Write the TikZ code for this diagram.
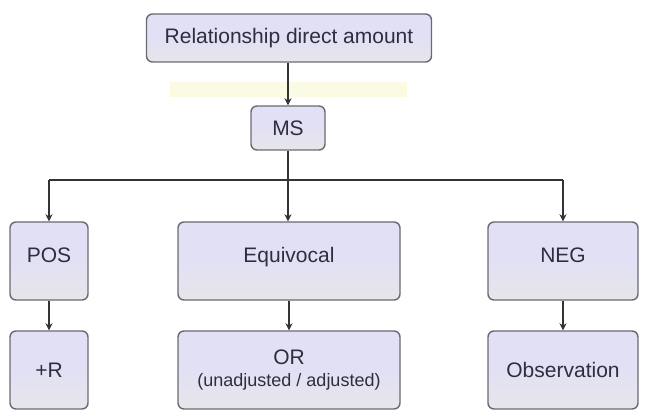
\documentclass[tikz,border=0pt]{standalone}
\usepackage{fontspec}
\setmainfont{Liberation Sans}
\usetikzlibrary{arrows.meta}
\definecolor{boxfill}{HTML}{E2E0F4}
\definecolor{boxlow}{HTML}{E6E6EA}
\definecolor{boxedge}{HTML}{6A6A74}
\definecolor{ink}{HTML}{2E2E3E}
\definecolor{wire}{HTML}{333333}
\definecolor{band}{HTML}{FBFBE4}
\tikzset{
  card/.style={draw=boxedge, line width=1.4pt, rounded corners=6pt,
    top color=boxfill, bottom color=boxlow, middle color=boxfill,
    text=ink, align=center, inner sep=2pt,
    font=\fontsize{21}{24}\selectfont},
  wire/.style={draw=wire, line width=1.7pt},
  arrowwire/.style={wire, -{Stealth[length=7pt,width=7pt]}}
}
\begin{document}
\begin{tikzpicture}[x=1pt,y=-1pt]
\useasboundingbox (0,0) rectangle (667,419);
\fill[white] (0,0) rectangle (667,419);
% pale highlight strip under the title
\fill[band] (170,82) rectangle (407,97);

% title and selector
\node[card, minimum width=285pt, minimum height=48pt] (top) at (289,38) {Relationship direct amount};
\node[card, minimum width=74pt, minimum height=44pt] (ms) at (288,128) {MS};

% test result row
\node[card, minimum width=78pt, minimum height=78pt, text depth=12pt] (pos) at (49,261) {POS};
\node[card, minimum width=222pt, minimum height=78pt, text depth=12pt] (equ) at (289,261) {Equivocal};
\node[card, minimum width=150pt, minimum height=78pt, text depth=12pt] (neg) at (563,261) {NEG};

% follow-up row
\node[card, minimum width=78pt, minimum height=78pt] (hr) at (49,370) {+R};
\node[card, minimum width=222pt, minimum height=78pt] (or) at (289,370) {OR\\[-2pt]\fontsize{18}{21}\selectfont(unadjusted / adjusted)};
\node[card, minimum width=150pt, minimum height=78pt] (obs) at (563,370) {Observation};

% connectors
\coordinate (split) at (288,180);
\draw[arrowwire] (top.south -| ms.north) -- (ms.north);
\draw[wire] (ms.south) -- (split);
\draw[wire] (pos.north |- split) -- (neg.north |- split);
\draw[arrowwire] (pos.north |- split) -- (pos.north);
\draw[arrowwire] (split) -- (equ.north -| split);
\draw[arrowwire] (neg.north |- split) -- (neg.north);

\draw[arrowwire] (pos.south) -- (hr.north);
\draw[arrowwire] (equ.south) -- (or.north);
\draw[arrowwire] (neg.south) -- (obs.north);
\end{tikzpicture}
\end{document}
